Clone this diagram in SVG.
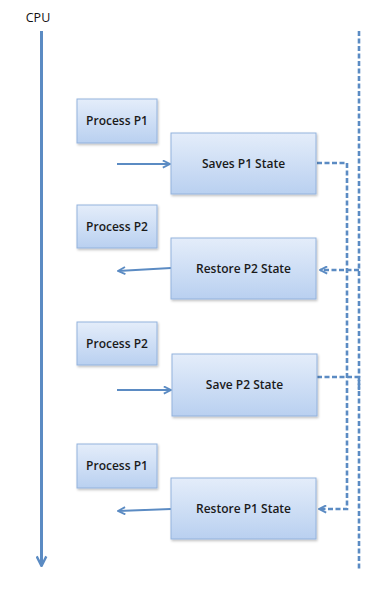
<svg xmlns="http://www.w3.org/2000/svg" width="385" height="590" viewBox="0 0 385 590">
<style>
.box{fill:url(#g);stroke:#93b3dd;stroke-width:1}
.lbl{font-family:"Open Sans","Liberation Sans",sans-serif;font-weight:600;font-size:12px;fill:#1a1a1a;text-anchor:middle}
.arr{stroke:#5b8bc3;stroke-width:1.8;fill:none}
.dash{stroke:#5b8bc3;stroke-width:2.6;fill:none;stroke-dasharray:5 2.5}
</style>
<defs>
<linearGradient id="g" x1="0" y1="0" x2="0" y2="1">
<stop offset="0" stop-color="#e4edfa"/>
<stop offset="1" stop-color="#b9d0f0"/>
</linearGradient>
<filter id="sh" x="-10%" y="-10%" width="130%" height="130%">
<feDropShadow dx="1" dy="1.5" stdDeviation="1" flood-color="#000" flood-opacity="0.25"/>
</filter>
<marker id="ah" viewBox="0 0 10 10" refX="9" refY="5" markerWidth="9" markerHeight="9" orient="auto" markerUnits="userSpaceOnUse">
<path d="M1,1 L9,5 L1,9" fill="none" stroke="#5b8bc3" stroke-width="2"/>
</marker>
<marker id="ahd" viewBox="0 0 10 10" refX="9" refY="5" markerWidth="9" markerHeight="9" orient="auto" markerUnits="userSpaceOnUse">
<path d="M1,1 L9,5 L1,9" fill="none" stroke="#5b8bc3" stroke-width="2.2"/>
</marker>
<marker id="ahc" viewBox="0 0 10 10" refX="9" refY="5" markerWidth="12" markerHeight="12" orient="auto" markerUnits="userSpaceOnUse">
<path d="M1,1 L9,5 L1,9" fill="none" stroke="#5b8bc3" stroke-width="2"/>
</marker>
</defs>
<rect width="385" height="590" fill="#fff"/>
<g id="cpu">
<text x="38" y="22" font-family="Open Sans,Liberation Sans,sans-serif" font-size="12.5" fill="#111" text-anchor="middle">CPU</text>
</g>
<g id="connectors">
<line x1="41.5" y1="31" x2="41.5" y2="566" stroke="#5b8bc3" stroke-width="3" marker-end="url(#ahc)"/>
<line x1="359" y1="31" x2="359" y2="570" class="dash"/>
<line x1="117" y1="164" x2="170" y2="164" class="arr" marker-end="url(#ah)"/>
<line x1="171" y1="268" x2="118" y2="271" class="arr" marker-end="url(#ah)"/>
<line x1="117" y1="390" x2="171" y2="390" class="arr" marker-end="url(#ah)"/>
<line x1="171" y1="509" x2="118" y2="511" class="arr" marker-end="url(#ah)"/>
<polyline points="317,163 347,163 347,509 319,509" class="dash" marker-end="url(#ahd)"/>
<polyline points="359,270 320,270" class="dash" marker-end="url(#ahd)"/>
<polyline points="317,377 359,377 359,390" class="dash"/>
</g>
<g id="p1a"><rect x="77" y="99" width="80" height="44" class="box" filter="url(#sh)"/><text x="117" y="125" class="lbl">Process P1</text></g>
<g id="save1"><rect x="171" y="133" width="145" height="61" class="box" filter="url(#sh)"/><text x="243.5" y="168" class="lbl">Saves P1 State</text></g>
<g id="p2a"><rect x="77" y="205" width="80" height="43" class="box" filter="url(#sh)"/><text x="117" y="231" class="lbl">Process P2</text></g>
<g id="restore2"><rect x="171" y="238" width="145" height="61" class="box" filter="url(#sh)"/><text x="243.5" y="273" class="lbl">Restore P2 State</text></g>
<g id="p2b"><rect x="77" y="322" width="80" height="43" class="box" filter="url(#sh)"/><text x="117" y="348" class="lbl">Process P2</text></g>
<g id="save2"><rect x="172" y="354" width="145" height="62" class="box" filter="url(#sh)"/><text x="244.5" y="389" class="lbl">Save P2 State</text></g>
<g id="p1b"><rect x="77" y="444" width="80" height="44" class="box" filter="url(#sh)"/><text x="117" y="470" class="lbl">Process P1</text></g>
<g id="restore1"><rect x="171" y="478" width="145" height="61" class="box" filter="url(#sh)"/><text x="243.5" y="513" class="lbl">Restore P1 State</text></g>
</svg>
